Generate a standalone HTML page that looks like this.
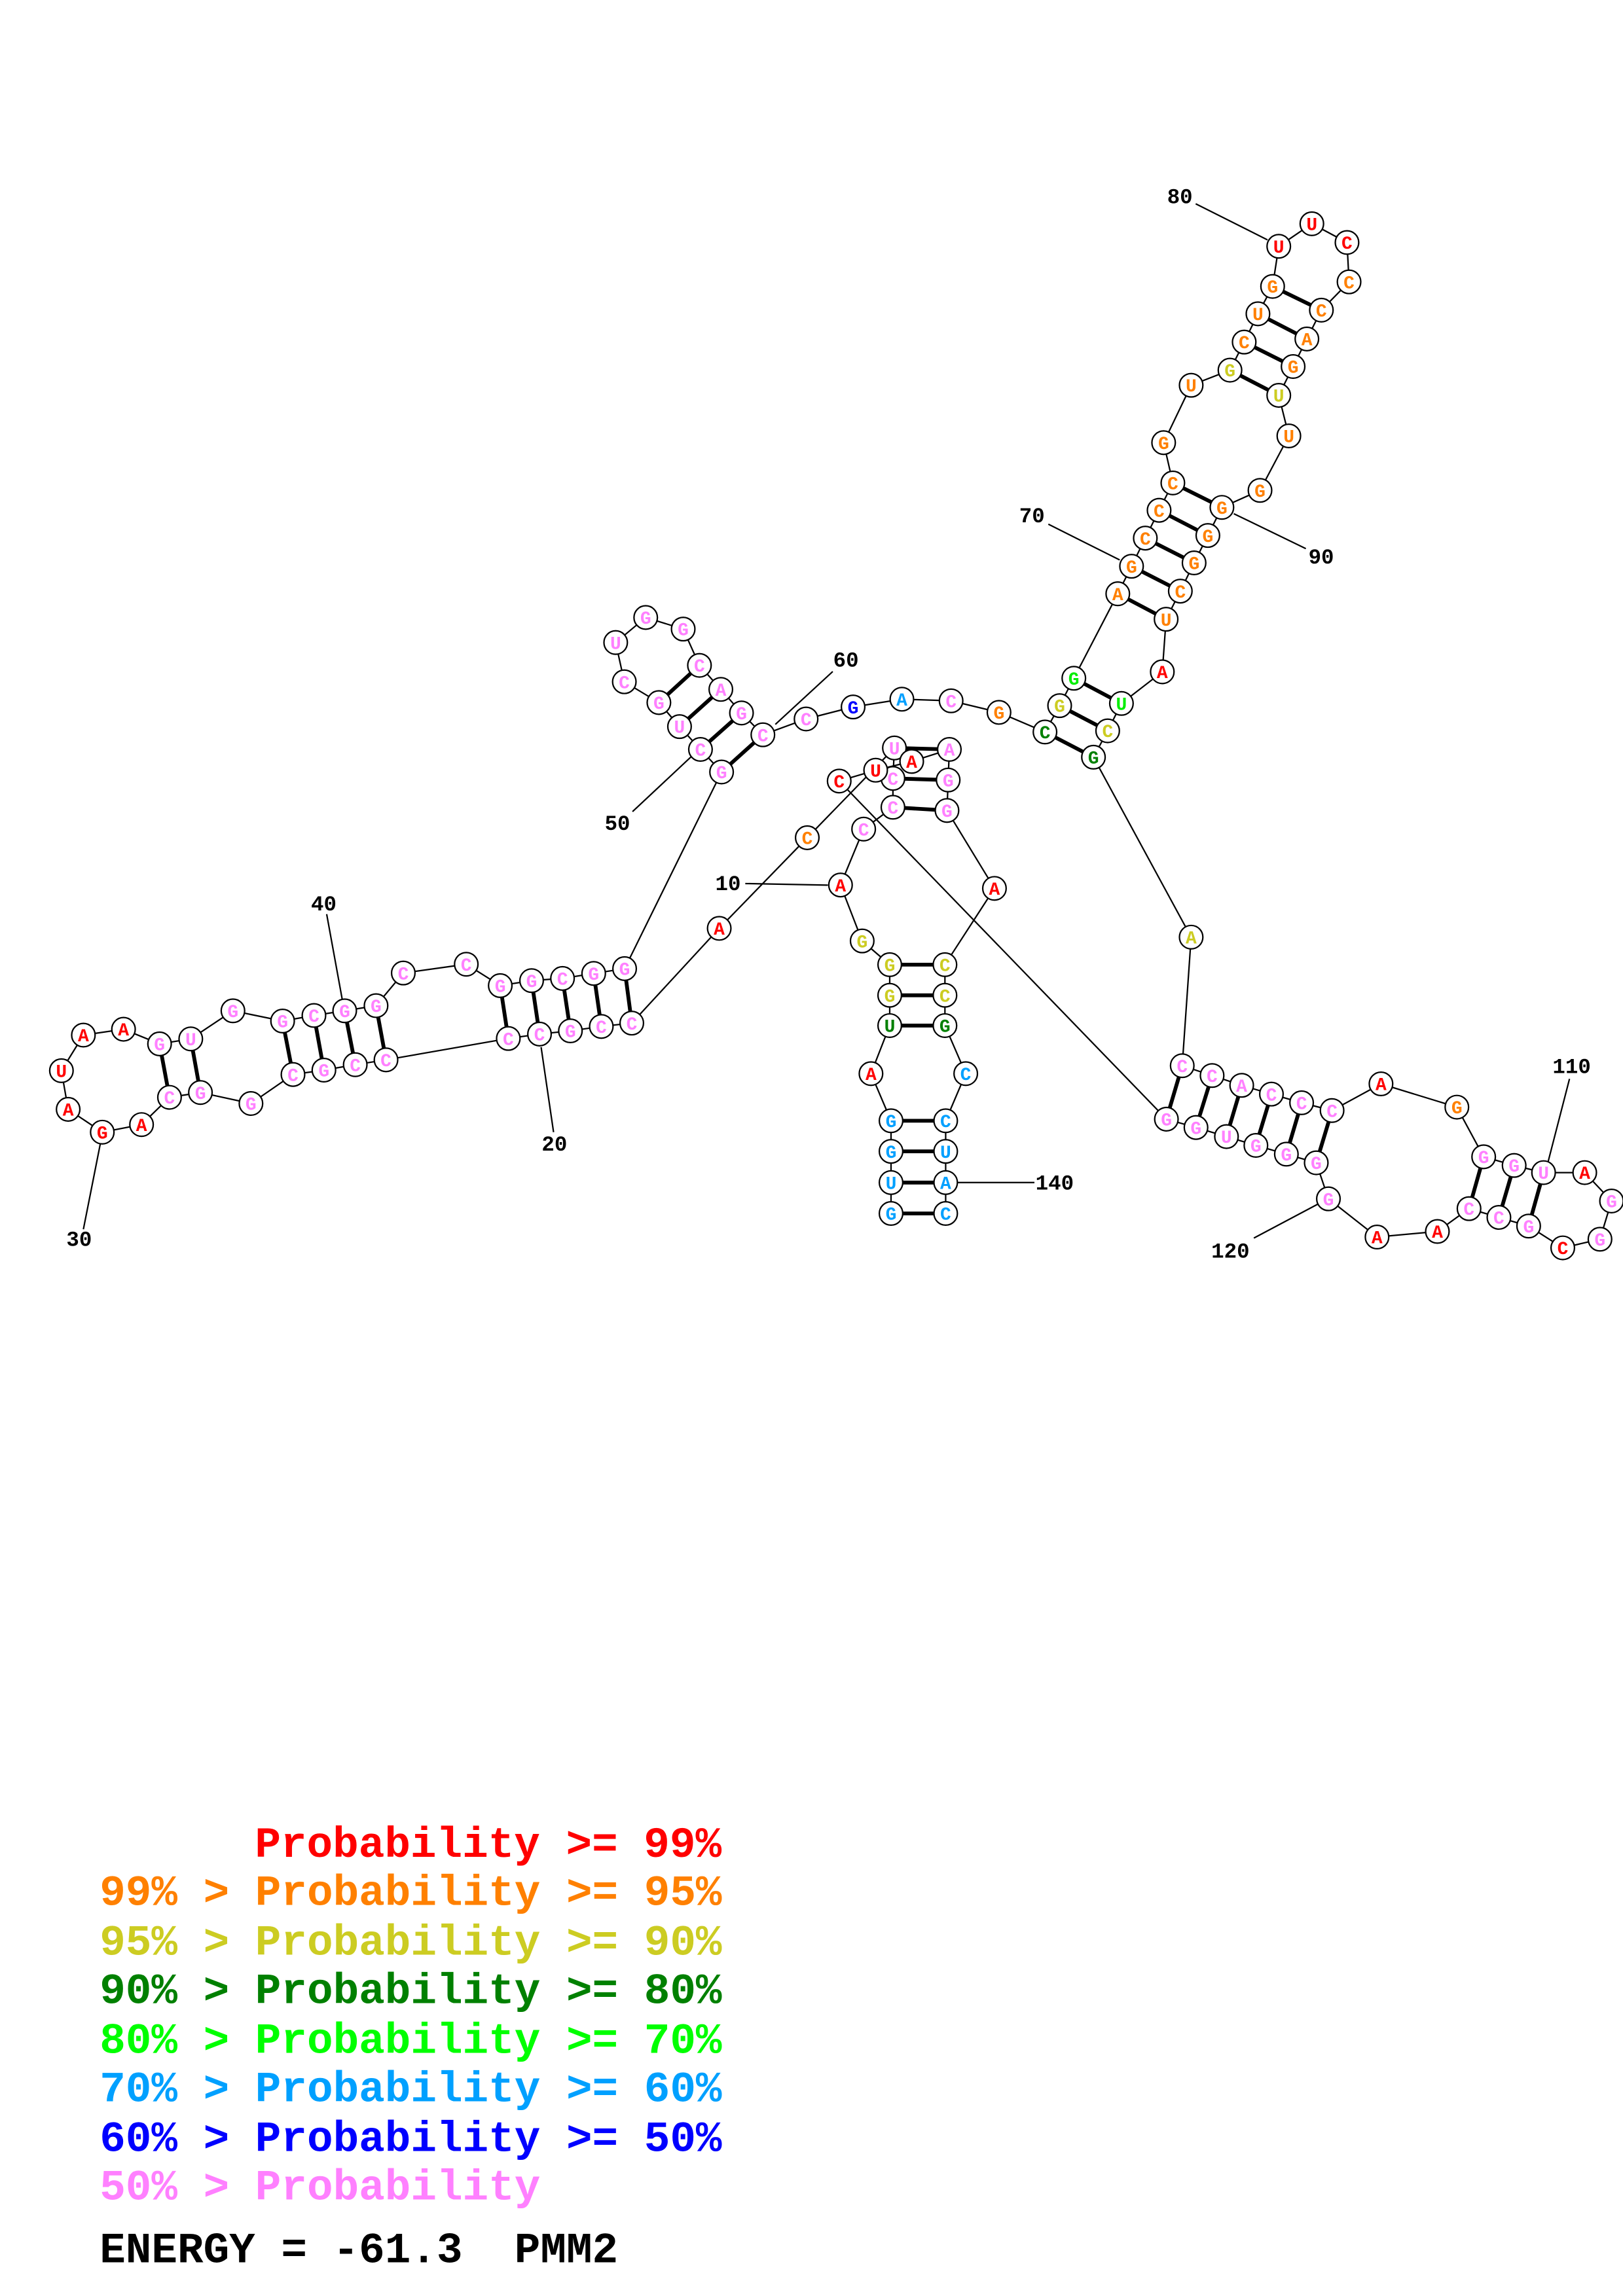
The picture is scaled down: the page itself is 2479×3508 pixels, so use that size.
<!DOCTYPE html>
<html><head><meta charset="utf-8"><style>
html,body{margin:0;padding:0;background:#fff;}
svg{display:block;}
.n text{font-family:"Liberation Mono",monospace;font-weight:bold;font-size:12.5px;text-anchor:middle;}
.lb{font-family:"Liberation Mono",monospace;font-weight:bold;font-size:14.5px;text-anchor:middle;dominant-baseline:central;}
.lg{font-family:"Liberation Mono",monospace;font-weight:bold;font-size:29.5px;white-space:pre;}
</style></head><body>
<svg width="2479" height="3508" viewBox="0 0 1108 1568" xmlns="http://www.w3.org/2000/svg">
<rect width="1108" height="1568" fill="#fff"/>
<g stroke="#000" stroke-width="1" fill="none">
<line x1="508.8" y1="603.4" x2="565.2" y2="604.5"/>
<line x1="369.4" y1="715.1" x2="377.9" y2="773.2"/>
<line x1="68.4" y1="781.4" x2="56.9" y2="839.5"/>
<line x1="223" y1="624.3" x2="234" y2="684.6"/>
<line x1="431.8" y1="554.3" x2="471.6" y2="517.0"/>
<line x1="568.5" y1="458.6" x2="529.3" y2="494.7"/>
<line x1="715.7" y1="358" x2="764.4" y2="382.4"/>
<line x1="816.3" y1="139.2" x2="865.3" y2="163.8"/>
<line x1="842.3" y1="350.8" x2="891.5" y2="374.7"/>
<line x1="1071.5" y1="736.8" x2="1056.9" y2="793.4"/>
<line x1="856" y1="845.5" x2="899.6" y2="822.4"/>
<line x1="653.6" y1="807.6" x2="706.2" y2="807.6"/>
<polyline points="608.3,828.7 608.3,807.6 608.3,786.3 608.3,765.4 594.6,733.2 607.4,700.4 607.4,679.7 607.4,658.8 588.6,642.6 573.8,604.4 589.6,566.2 609.6,551.3 609.6,531.6 610.6,510.8 551.1,572.1 491,634 431.3,698.7 410.5,701.0 389.4,704.0 368.3,706.2 347.0,709.2 263.5,723.8 242.5,727.1 221.1,730.8 200.0,733.8 171.3,753.6 136.8,746.1 115.7,749.4 96.6,768.0 69.8,773.2 46.5,757.6 41.9,731.2 56.9,706.9 84.3,702.9 108.9,712.9 130.2,709.5 159.0,690.3 192.9,697.3 214.3,693.5 235.3,690.3 256.7,686.8 275.3,664.5 318.3,658.5 341.5,673.1 362.9,669.7 384.0,668.2 405.3,664.8 426.4,661.5 492.6,527.2 478.2,511.8 463.9,496.2 449.8,479.8 426.2,465.6 420.3,438.8 440.8,421.7 466.4,429.6 477.5,454.4 492.1,470.8 506.2,486.9 520.8,501.8 550.3,491.0 582.4,482.8 615.7,477.5 649.3,478.6 682.0,486.5 713.4,499.9 723.4,481.9 733.1,463.2 763.1,405.5 772.5,386.7 781.9,367.5 791.3,348.5 800.7,329.8 794.4,302.3 813.2,263.1 839.7,252.8 849.4,233.6 858.8,214.3 868.8,195.6 873.0,168.2 895.6,152.8 919.6,165.6 921.0,192.5 902.1,211.8 892.2,231.5 882.8,250.3 873.0,270.0 879.9,297.7 860.2,334.9 834.2,346.5 824.6,365.7 815.2,384.4 805.8,403.7 796.1,422.9 793.5,458.8 765.6,480.4 756.2,499.1 746.5,517.1 813.2,640.0 807.1,727.8 827.5,734.5 847.7,741.2 868.0,747.2 888.6,753.1 909.4,758.4 942.8,740.2 994.6,756.1 1012.9,790.0 1033.7,795.9 1053.8,800.8 1081.9,800.8 1100.2,820.2 1092.3,846.3 1066.9,852.2 1043.6,837.3 1023.3,831.4 1002.9,825.4 981.3,841.0 940.1,844.8 906.9,818.7 898.6,794.1 878.2,788.2 857.4,782.2 837.3,776.2 816.5,770.0 796.3,764.3 572.9,533.4 597.8,526.0 622.4,520.0 648.1,511.8 647.3,532.7 646.5,553.5 678.9,606.7 645.1,658.8 645.1,679.7 645.1,700.4 659.3,733.2 645.6,765.4 645.6,786.3 645.6,807.6 645.6,828.7"/>
</g>
<g stroke="#000" stroke-width="2.6">
<line x1="608.3" y1="828.7" x2="645.6" y2="828.7"/>
<line x1="608.3" y1="807.6" x2="645.6" y2="807.6"/>
<line x1="608.3" y1="786.3" x2="645.6" y2="786.3"/>
<line x1="608.3" y1="765.4" x2="645.6" y2="765.4"/>
<line x1="607.4" y1="700.4" x2="645.1" y2="700.4"/>
<line x1="607.4" y1="679.7" x2="645.1" y2="679.7"/>
<line x1="607.4" y1="658.8" x2="645.1" y2="658.8"/>
<line x1="609.6" y1="551.3" x2="646.5" y2="553.5"/>
<line x1="609.6" y1="531.6" x2="647.3" y2="532.7"/>
<line x1="610.6" y1="510.8" x2="648.1" y2="511.8"/>
<line x1="431.3" y1="698.7" x2="426.4" y2="661.5"/>
<line x1="410.5" y1="701.0" x2="405.3" y2="664.8"/>
<line x1="389.4" y1="704.0" x2="384.0" y2="668.2"/>
<line x1="368.3" y1="706.2" x2="362.9" y2="669.7"/>
<line x1="347.0" y1="709.2" x2="341.5" y2="673.1"/>
<line x1="263.5" y1="723.8" x2="256.7" y2="686.8"/>
<line x1="242.5" y1="727.1" x2="235.3" y2="690.3"/>
<line x1="221.1" y1="730.8" x2="214.3" y2="693.5"/>
<line x1="200.0" y1="733.8" x2="192.9" y2="697.3"/>
<line x1="115.7" y1="749.4" x2="108.9" y2="712.9"/>
<line x1="136.8" y1="746.1" x2="130.2" y2="709.5"/>
<line x1="492.6" y1="527.2" x2="520.8" y2="501.8"/>
<line x1="478.2" y1="511.8" x2="506.2" y2="486.9"/>
<line x1="463.9" y1="496.2" x2="492.1" y2="470.8"/>
<line x1="449.8" y1="479.8" x2="477.5" y2="454.4"/>
<line x1="713.4" y1="499.9" x2="746.5" y2="517.1"/>
<line x1="723.4" y1="481.9" x2="756.2" y2="499.1"/>
<line x1="733.1" y1="463.2" x2="765.6" y2="480.4"/>
<line x1="763.1" y1="405.5" x2="796.1" y2="422.9"/>
<line x1="772.5" y1="386.7" x2="805.8" y2="403.7"/>
<line x1="781.9" y1="367.5" x2="815.2" y2="384.4"/>
<line x1="791.3" y1="348.5" x2="824.6" y2="365.7"/>
<line x1="800.7" y1="329.8" x2="834.2" y2="346.5"/>
<line x1="839.7" y1="252.8" x2="873.0" y2="270.0"/>
<line x1="849.4" y1="233.6" x2="882.8" y2="250.3"/>
<line x1="858.8" y1="214.3" x2="892.2" y2="231.5"/>
<line x1="868.8" y1="195.6" x2="902.1" y2="211.8"/>
<line x1="807.1" y1="727.8" x2="796.3" y2="764.3"/>
<line x1="827.5" y1="734.5" x2="816.5" y2="770.0"/>
<line x1="847.7" y1="741.2" x2="837.3" y2="776.2"/>
<line x1="868.0" y1="747.2" x2="857.4" y2="782.2"/>
<line x1="888.6" y1="753.1" x2="878.2" y2="788.2"/>
<line x1="909.4" y1="758.4" x2="898.6" y2="794.1"/>
<line x1="1012.9" y1="790.0" x2="1002.9" y2="825.4"/>
<line x1="1033.7" y1="795.9" x2="1023.3" y2="831.4"/>
<line x1="1053.8" y1="800.8" x2="1043.6" y2="837.3"/>
</g>
<g class="n" stroke-width="1">
<g fill="#00a0ff"><circle cx="608.3" cy="828.7" r="8" fill="#fff" stroke="#000"/><text x="608.3" y="833">G</text></g>
<g fill="#00a0ff"><circle cx="608.3" cy="807.6" r="8" fill="#fff" stroke="#000"/><text x="608.3" y="811.9">U</text></g>
<g fill="#00a0ff"><circle cx="608.3" cy="786.3" r="8" fill="#fff" stroke="#000"/><text x="608.3" y="790.6">G</text></g>
<g fill="#00a0ff"><circle cx="608.3" cy="765.4" r="8" fill="#fff" stroke="#000"/><text x="608.3" y="769.7">G</text></g>
<g fill="#ff0000"><circle cx="594.6" cy="733.2" r="8" fill="#fff" stroke="#000"/><text x="594.6" y="737.5">A</text></g>
<g fill="#008000"><circle cx="607.4" cy="700.4" r="8" fill="#fff" stroke="#000"/><text x="607.4" y="704.7">U</text></g>
<g fill="#cccc22"><circle cx="607.4" cy="679.7" r="8" fill="#fff" stroke="#000"/><text x="607.4" y="684">G</text></g>
<g fill="#cccc22"><circle cx="607.4" cy="658.8" r="8" fill="#fff" stroke="#000"/><text x="607.4" y="663.1">G</text></g>
<g fill="#cccc22"><circle cx="588.6" cy="642.6" r="8" fill="#fff" stroke="#000"/><text x="588.6" y="646.9">G</text></g>
<g fill="#ff0000"><circle cx="573.8" cy="604.4" r="8" fill="#fff" stroke="#000"/><text x="573.8" y="608.7">A</text></g>
<g fill="#ff80ff"><circle cx="589.6" cy="566.2" r="8" fill="#fff" stroke="#000"/><text x="589.6" y="570.5">C</text></g>
<g fill="#ff80ff"><circle cx="609.6" cy="551.3" r="8" fill="#fff" stroke="#000"/><text x="609.6" y="555.6">C</text></g>
<g fill="#ff80ff"><circle cx="609.6" cy="531.6" r="8" fill="#fff" stroke="#000"/><text x="609.6" y="535.9">C</text></g>
<g fill="#ff80ff"><circle cx="610.6" cy="510.8" r="8" fill="#fff" stroke="#000"/><text x="610.6" y="515.1">U</text></g>
<g fill="#ff8000"><circle cx="551.1" cy="572.1" r="8" fill="#fff" stroke="#000"/><text x="551.1" y="576.4">C</text></g>
<g fill="#ff0000"><circle cx="491" cy="634" r="8" fill="#fff" stroke="#000"/><text x="491" y="638.3">A</text></g>
<g fill="#ff80ff"><circle cx="431.3" cy="698.7" r="8" fill="#fff" stroke="#000"/><text x="431.3" y="703">C</text></g>
<g fill="#ff80ff"><circle cx="410.5" cy="701.0" r="8" fill="#fff" stroke="#000"/><text x="410.5" y="705.3">C</text></g>
<g fill="#ff80ff"><circle cx="389.4" cy="704.0" r="8" fill="#fff" stroke="#000"/><text x="389.4" y="708.3">G</text></g>
<g fill="#ff80ff"><circle cx="368.3" cy="706.2" r="8" fill="#fff" stroke="#000"/><text x="368.3" y="710.5">C</text></g>
<g fill="#ff80ff"><circle cx="347.0" cy="709.2" r="8" fill="#fff" stroke="#000"/><text x="347.0" y="713.5">C</text></g>
<g fill="#ff80ff"><circle cx="263.5" cy="723.8" r="8" fill="#fff" stroke="#000"/><text x="263.5" y="728.1">C</text></g>
<g fill="#ff80ff"><circle cx="242.5" cy="727.1" r="8" fill="#fff" stroke="#000"/><text x="242.5" y="731.4">C</text></g>
<g fill="#ff80ff"><circle cx="221.1" cy="730.8" r="8" fill="#fff" stroke="#000"/><text x="221.1" y="735.1">G</text></g>
<g fill="#ff80ff"><circle cx="200.0" cy="733.8" r="8" fill="#fff" stroke="#000"/><text x="200.0" y="738.1">C</text></g>
<g fill="#ff80ff"><circle cx="171.3" cy="753.6" r="8" fill="#fff" stroke="#000"/><text x="171.3" y="757.9">G</text></g>
<g fill="#ff80ff"><circle cx="136.8" cy="746.1" r="8" fill="#fff" stroke="#000"/><text x="136.8" y="750.4">G</text></g>
<g fill="#ff80ff"><circle cx="115.7" cy="749.4" r="8" fill="#fff" stroke="#000"/><text x="115.7" y="753.7">C</text></g>
<g fill="#ff0000"><circle cx="96.6" cy="768.0" r="8" fill="#fff" stroke="#000"/><text x="96.6" y="772.3">A</text></g>
<g fill="#ff0000"><circle cx="69.8" cy="773.2" r="8" fill="#fff" stroke="#000"/><text x="69.8" y="777.5">G</text></g>
<g fill="#ff0000"><circle cx="46.5" cy="757.6" r="8" fill="#fff" stroke="#000"/><text x="46.5" y="761.9">A</text></g>
<g fill="#ff0000"><circle cx="41.9" cy="731.2" r="8" fill="#fff" stroke="#000"/><text x="41.9" y="735.5">U</text></g>
<g fill="#ff0000"><circle cx="56.9" cy="706.9" r="8" fill="#fff" stroke="#000"/><text x="56.9" y="711.2">A</text></g>
<g fill="#ff0000"><circle cx="84.3" cy="702.9" r="8" fill="#fff" stroke="#000"/><text x="84.3" y="707.2">A</text></g>
<g fill="#ff80ff"><circle cx="108.9" cy="712.9" r="8" fill="#fff" stroke="#000"/><text x="108.9" y="717.2">G</text></g>
<g fill="#ff80ff"><circle cx="130.2" cy="709.5" r="8" fill="#fff" stroke="#000"/><text x="130.2" y="713.8">U</text></g>
<g fill="#ff80ff"><circle cx="159.0" cy="690.3" r="8" fill="#fff" stroke="#000"/><text x="159.0" y="694.6">G</text></g>
<g fill="#ff80ff"><circle cx="192.9" cy="697.3" r="8" fill="#fff" stroke="#000"/><text x="192.9" y="701.6">G</text></g>
<g fill="#ff80ff"><circle cx="214.3" cy="693.5" r="8" fill="#fff" stroke="#000"/><text x="214.3" y="697.8">C</text></g>
<g fill="#ff80ff"><circle cx="235.3" cy="690.3" r="8" fill="#fff" stroke="#000"/><text x="235.3" y="694.6">G</text></g>
<g fill="#ff80ff"><circle cx="256.7" cy="686.8" r="8" fill="#fff" stroke="#000"/><text x="256.7" y="691.1">G</text></g>
<g fill="#ff80ff"><circle cx="275.3" cy="664.5" r="8" fill="#fff" stroke="#000"/><text x="275.3" y="668.8">C</text></g>
<g fill="#ff80ff"><circle cx="318.3" cy="658.5" r="8" fill="#fff" stroke="#000"/><text x="318.3" y="662.8">C</text></g>
<g fill="#ff80ff"><circle cx="341.5" cy="673.1" r="8" fill="#fff" stroke="#000"/><text x="341.5" y="677.4">G</text></g>
<g fill="#ff80ff"><circle cx="362.9" cy="669.7" r="8" fill="#fff" stroke="#000"/><text x="362.9" y="674">G</text></g>
<g fill="#ff80ff"><circle cx="384.0" cy="668.2" r="8" fill="#fff" stroke="#000"/><text x="384.0" y="672.5">C</text></g>
<g fill="#ff80ff"><circle cx="405.3" cy="664.8" r="8" fill="#fff" stroke="#000"/><text x="405.3" y="669.1">G</text></g>
<g fill="#ff80ff"><circle cx="426.4" cy="661.5" r="8" fill="#fff" stroke="#000"/><text x="426.4" y="665.8">G</text></g>
<g fill="#ff80ff"><circle cx="492.6" cy="527.2" r="8" fill="#fff" stroke="#000"/><text x="492.6" y="531.5">G</text></g>
<g fill="#ff80ff"><circle cx="478.2" cy="511.8" r="8" fill="#fff" stroke="#000"/><text x="478.2" y="516.1">C</text></g>
<g fill="#ff80ff"><circle cx="463.9" cy="496.2" r="8" fill="#fff" stroke="#000"/><text x="463.9" y="500.5">U</text></g>
<g fill="#ff80ff"><circle cx="449.8" cy="479.8" r="8" fill="#fff" stroke="#000"/><text x="449.8" y="484.1">G</text></g>
<g fill="#ff80ff"><circle cx="426.2" cy="465.6" r="8" fill="#fff" stroke="#000"/><text x="426.2" y="469.9">C</text></g>
<g fill="#ff80ff"><circle cx="420.3" cy="438.8" r="8" fill="#fff" stroke="#000"/><text x="420.3" y="443.1">U</text></g>
<g fill="#ff80ff"><circle cx="440.8" cy="421.7" r="8" fill="#fff" stroke="#000"/><text x="440.8" y="426">G</text></g>
<g fill="#ff80ff"><circle cx="466.4" cy="429.6" r="8" fill="#fff" stroke="#000"/><text x="466.4" y="433.9">G</text></g>
<g fill="#ff80ff"><circle cx="477.5" cy="454.4" r="8" fill="#fff" stroke="#000"/><text x="477.5" y="458.7">C</text></g>
<g fill="#ff80ff"><circle cx="492.1" cy="470.8" r="8" fill="#fff" stroke="#000"/><text x="492.1" y="475.1">A</text></g>
<g fill="#ff80ff"><circle cx="506.2" cy="486.9" r="8" fill="#fff" stroke="#000"/><text x="506.2" y="491.2">G</text></g>
<g fill="#ff80ff"><circle cx="520.8" cy="501.8" r="8" fill="#fff" stroke="#000"/><text x="520.8" y="506.1">C</text></g>
<g fill="#ff80ff"><circle cx="550.3" cy="491.0" r="8" fill="#fff" stroke="#000"/><text x="550.3" y="495.3">C</text></g>
<g fill="#0000ff"><circle cx="582.4" cy="482.8" r="8" fill="#fff" stroke="#000"/><text x="582.4" y="487.1">G</text></g>
<g fill="#00a0ff"><circle cx="615.7" cy="477.5" r="8" fill="#fff" stroke="#000"/><text x="615.7" y="481.8">A</text></g>
<g fill="#ff80ff"><circle cx="649.3" cy="478.6" r="8" fill="#fff" stroke="#000"/><text x="649.3" y="482.9">C</text></g>
<g fill="#ff8000"><circle cx="682.0" cy="486.5" r="8" fill="#fff" stroke="#000"/><text x="682.0" y="490.8">G</text></g>
<g fill="#008000"><circle cx="713.4" cy="499.9" r="8" fill="#fff" stroke="#000"/><text x="713.4" y="504.2">C</text></g>
<g fill="#cccc22"><circle cx="723.4" cy="481.9" r="8" fill="#fff" stroke="#000"/><text x="723.4" y="486.2">G</text></g>
<g fill="#00ee00"><circle cx="733.1" cy="463.2" r="8" fill="#fff" stroke="#000"/><text x="733.1" y="467.5">G</text></g>
<g fill="#ff8000"><circle cx="763.1" cy="405.5" r="8" fill="#fff" stroke="#000"/><text x="763.1" y="409.8">A</text></g>
<g fill="#ff8000"><circle cx="772.5" cy="386.7" r="8" fill="#fff" stroke="#000"/><text x="772.5" y="391">G</text></g>
<g fill="#ff8000"><circle cx="781.9" cy="367.5" r="8" fill="#fff" stroke="#000"/><text x="781.9" y="371.8">C</text></g>
<g fill="#ff8000"><circle cx="791.3" cy="348.5" r="8" fill="#fff" stroke="#000"/><text x="791.3" y="352.8">C</text></g>
<g fill="#ff8000"><circle cx="800.7" cy="329.8" r="8" fill="#fff" stroke="#000"/><text x="800.7" y="334.1">C</text></g>
<g fill="#ff8000"><circle cx="794.4" cy="302.3" r="8" fill="#fff" stroke="#000"/><text x="794.4" y="306.6">G</text></g>
<g fill="#ff8000"><circle cx="813.2" cy="263.1" r="8" fill="#fff" stroke="#000"/><text x="813.2" y="267.4">U</text></g>
<g fill="#cccc22"><circle cx="839.7" cy="252.8" r="8" fill="#fff" stroke="#000"/><text x="839.7" y="257.1">G</text></g>
<g fill="#ff8000"><circle cx="849.4" cy="233.6" r="8" fill="#fff" stroke="#000"/><text x="849.4" y="237.9">C</text></g>
<g fill="#ff8000"><circle cx="858.8" cy="214.3" r="8" fill="#fff" stroke="#000"/><text x="858.8" y="218.6">U</text></g>
<g fill="#ff8000"><circle cx="868.8" cy="195.6" r="8" fill="#fff" stroke="#000"/><text x="868.8" y="199.9">G</text></g>
<g fill="#ff0000"><circle cx="873.0" cy="168.2" r="8" fill="#fff" stroke="#000"/><text x="873.0" y="172.5">U</text></g>
<g fill="#ff0000"><circle cx="895.6" cy="152.8" r="8" fill="#fff" stroke="#000"/><text x="895.6" y="157.1">U</text></g>
<g fill="#ff0000"><circle cx="919.6" cy="165.6" r="8" fill="#fff" stroke="#000"/><text x="919.6" y="169.9">C</text></g>
<g fill="#ff8000"><circle cx="921.0" cy="192.5" r="8" fill="#fff" stroke="#000"/><text x="921.0" y="196.8">C</text></g>
<g fill="#ff8000"><circle cx="902.1" cy="211.8" r="8" fill="#fff" stroke="#000"/><text x="902.1" y="216.1">C</text></g>
<g fill="#ff8000"><circle cx="892.2" cy="231.5" r="8" fill="#fff" stroke="#000"/><text x="892.2" y="235.8">A</text></g>
<g fill="#ff8000"><circle cx="882.8" cy="250.3" r="8" fill="#fff" stroke="#000"/><text x="882.8" y="254.6">G</text></g>
<g fill="#cccc22"><circle cx="873.0" cy="270.0" r="8" fill="#fff" stroke="#000"/><text x="873.0" y="274.3">U</text></g>
<g fill="#ff8000"><circle cx="879.9" cy="297.7" r="8" fill="#fff" stroke="#000"/><text x="879.9" y="302">U</text></g>
<g fill="#ff8000"><circle cx="860.2" cy="334.9" r="8" fill="#fff" stroke="#000"/><text x="860.2" y="339.2">G</text></g>
<g fill="#ff8000"><circle cx="834.2" cy="346.5" r="8" fill="#fff" stroke="#000"/><text x="834.2" y="350.8">G</text></g>
<g fill="#ff8000"><circle cx="824.6" cy="365.7" r="8" fill="#fff" stroke="#000"/><text x="824.6" y="370">G</text></g>
<g fill="#ff8000"><circle cx="815.2" cy="384.4" r="8" fill="#fff" stroke="#000"/><text x="815.2" y="388.7">G</text></g>
<g fill="#ff8000"><circle cx="805.8" cy="403.7" r="8" fill="#fff" stroke="#000"/><text x="805.8" y="408">C</text></g>
<g fill="#ff8000"><circle cx="796.1" cy="422.9" r="8" fill="#fff" stroke="#000"/><text x="796.1" y="427.2">U</text></g>
<g fill="#ff0000"><circle cx="793.5" cy="458.8" r="8" fill="#fff" stroke="#000"/><text x="793.5" y="463.1">A</text></g>
<g fill="#00ee00"><circle cx="765.6" cy="480.4" r="8" fill="#fff" stroke="#000"/><text x="765.6" y="484.7">U</text></g>
<g fill="#cccc22"><circle cx="756.2" cy="499.1" r="8" fill="#fff" stroke="#000"/><text x="756.2" y="503.4">C</text></g>
<g fill="#008000"><circle cx="746.5" cy="517.1" r="8" fill="#fff" stroke="#000"/><text x="746.5" y="521.4">G</text></g>
<g fill="#cccc22"><circle cx="813.2" cy="640.0" r="8" fill="#fff" stroke="#000"/><text x="813.2" y="644.3">A</text></g>
<g fill="#ff80ff"><circle cx="807.1" cy="727.8" r="8" fill="#fff" stroke="#000"/><text x="807.1" y="732.1">C</text></g>
<g fill="#ff80ff"><circle cx="827.5" cy="734.5" r="8" fill="#fff" stroke="#000"/><text x="827.5" y="738.8">C</text></g>
<g fill="#ff80ff"><circle cx="847.7" cy="741.2" r="8" fill="#fff" stroke="#000"/><text x="847.7" y="745.5">A</text></g>
<g fill="#ff80ff"><circle cx="868.0" cy="747.2" r="8" fill="#fff" stroke="#000"/><text x="868.0" y="751.5">C</text></g>
<g fill="#ff80ff"><circle cx="888.6" cy="753.1" r="8" fill="#fff" stroke="#000"/><text x="888.6" y="757.4">C</text></g>
<g fill="#ff80ff"><circle cx="909.4" cy="758.4" r="8" fill="#fff" stroke="#000"/><text x="909.4" y="762.7">C</text></g>
<g fill="#ff0000"><circle cx="942.8" cy="740.2" r="8" fill="#fff" stroke="#000"/><text x="942.8" y="744.5">A</text></g>
<g fill="#ff8000"><circle cx="994.6" cy="756.1" r="8" fill="#fff" stroke="#000"/><text x="994.6" y="760.4">G</text></g>
<g fill="#ff80ff"><circle cx="1012.9" cy="790.0" r="8" fill="#fff" stroke="#000"/><text x="1012.9" y="794.3">G</text></g>
<g fill="#ff80ff"><circle cx="1033.7" cy="795.9" r="8" fill="#fff" stroke="#000"/><text x="1033.7" y="800.2">G</text></g>
<g fill="#ff80ff"><circle cx="1053.8" cy="800.8" r="8" fill="#fff" stroke="#000"/><text x="1053.8" y="805.1">U</text></g>
<g fill="#ff0000"><circle cx="1081.9" cy="800.8" r="8" fill="#fff" stroke="#000"/><text x="1081.9" y="805.1">A</text></g>
<g fill="#ff80ff"><circle cx="1100.2" cy="820.2" r="8" fill="#fff" stroke="#000"/><text x="1100.2" y="824.5">G</text></g>
<g fill="#ff80ff"><circle cx="1092.3" cy="846.3" r="8" fill="#fff" stroke="#000"/><text x="1092.3" y="850.6">G</text></g>
<g fill="#ff0000"><circle cx="1066.9" cy="852.2" r="8" fill="#fff" stroke="#000"/><text x="1066.9" y="856.5">C</text></g>
<g fill="#ff80ff"><circle cx="1043.6" cy="837.3" r="8" fill="#fff" stroke="#000"/><text x="1043.6" y="841.6">G</text></g>
<g fill="#ff80ff"><circle cx="1023.3" cy="831.4" r="8" fill="#fff" stroke="#000"/><text x="1023.3" y="835.7">C</text></g>
<g fill="#ff80ff"><circle cx="1002.9" cy="825.4" r="8" fill="#fff" stroke="#000"/><text x="1002.9" y="829.7">C</text></g>
<g fill="#ff0000"><circle cx="981.3" cy="841.0" r="8" fill="#fff" stroke="#000"/><text x="981.3" y="845.3">A</text></g>
<g fill="#ff0000"><circle cx="940.1" cy="844.8" r="8" fill="#fff" stroke="#000"/><text x="940.1" y="849.1">A</text></g>
<g fill="#ff80ff"><circle cx="906.9" cy="818.7" r="8" fill="#fff" stroke="#000"/><text x="906.9" y="823">G</text></g>
<g fill="#ff80ff"><circle cx="898.6" cy="794.1" r="8" fill="#fff" stroke="#000"/><text x="898.6" y="798.4">G</text></g>
<g fill="#ff80ff"><circle cx="878.2" cy="788.2" r="8" fill="#fff" stroke="#000"/><text x="878.2" y="792.5">G</text></g>
<g fill="#ff80ff"><circle cx="857.4" cy="782.2" r="8" fill="#fff" stroke="#000"/><text x="857.4" y="786.5">G</text></g>
<g fill="#ff80ff"><circle cx="837.3" cy="776.2" r="8" fill="#fff" stroke="#000"/><text x="837.3" y="780.5">U</text></g>
<g fill="#ff80ff"><circle cx="816.5" cy="770.0" r="8" fill="#fff" stroke="#000"/><text x="816.5" y="774.3">G</text></g>
<g fill="#ff80ff"><circle cx="796.3" cy="764.3" r="8" fill="#fff" stroke="#000"/><text x="796.3" y="768.6">G</text></g>
<g fill="#ff0000"><circle cx="572.9" cy="533.4" r="8" fill="#fff" stroke="#000"/><text x="572.9" y="537.7">C</text></g>
<g fill="#ff0000"><circle cx="597.8" cy="526.0" r="8" fill="#fff" stroke="#000"/><text x="597.8" y="530.3">U</text></g>
<g fill="#ff0000"><circle cx="622.4" cy="520.0" r="8" fill="#fff" stroke="#000"/><text x="622.4" y="524.3">A</text></g>
<g fill="#ff80ff"><circle cx="648.1" cy="511.8" r="8" fill="#fff" stroke="#000"/><text x="648.1" y="516.1">A</text></g>
<g fill="#ff80ff"><circle cx="647.3" cy="532.7" r="8" fill="#fff" stroke="#000"/><text x="647.3" y="537">G</text></g>
<g fill="#ff80ff"><circle cx="646.5" cy="553.5" r="8" fill="#fff" stroke="#000"/><text x="646.5" y="557.8">G</text></g>
<g fill="#ff0000"><circle cx="678.9" cy="606.7" r="8" fill="#fff" stroke="#000"/><text x="678.9" y="611">A</text></g>
<g fill="#cccc22"><circle cx="645.1" cy="658.8" r="8" fill="#fff" stroke="#000"/><text x="645.1" y="663.1">C</text></g>
<g fill="#cccc22"><circle cx="645.1" cy="679.7" r="8" fill="#fff" stroke="#000"/><text x="645.1" y="684">C</text></g>
<g fill="#008000"><circle cx="645.1" cy="700.4" r="8" fill="#fff" stroke="#000"/><text x="645.1" y="704.7">G</text></g>
<g fill="#00a0ff"><circle cx="659.3" cy="733.2" r="8" fill="#fff" stroke="#000"/><text x="659.3" y="737.5">C</text></g>
<g fill="#00a0ff"><circle cx="645.6" cy="765.4" r="8" fill="#fff" stroke="#000"/><text x="645.6" y="769.7">C</text></g>
<g fill="#00a0ff"><circle cx="645.6" cy="786.3" r="8" fill="#fff" stroke="#000"/><text x="645.6" y="790.6">U</text></g>
<g fill="#00a0ff"><circle cx="645.6" cy="807.6" r="8" fill="#fff" stroke="#000"/><text x="645.6" y="811.9">A</text></g>
<g fill="#00a0ff"><circle cx="645.6" cy="828.7" r="8" fill="#fff" stroke="#000"/><text x="645.6" y="833">C</text></g>
</g>
<g class="lb" fill="#000">
<text x="497" y="604">10</text>
<text x="378.5" y="782">20</text>
<text x="54" y="847">30</text>
<text x="221" y="618">40</text>
<text x="421.5" y="563">50</text>
<text x="577.5" y="451.5">60</text>
<text x="704.5" y="353">70</text>
<text x="805.5" y="135">80</text>
<text x="902" y="381">90</text>
<text x="1073" y="729">110</text>
<text x="840" y="855">120</text>
<text x="720" y="808.5">140</text>
</g>
<g class="lg">
<text x="174" y="1268" fill="#ff0000">Probability &gt;= 99%</text>
<text x="68" y="1301" fill="#ff8000">99% &gt; Probability &gt;= 95%</text>
<text x="68" y="1335" fill="#cccc22">95% &gt; Probability &gt;= 90%</text>
<text x="68" y="1368" fill="#008000">90% &gt; Probability &gt;= 80%</text>
<text x="68" y="1402" fill="#00ff00">80% &gt; Probability &gt;= 70%</text>
<text x="68" y="1435" fill="#00a0ff">70% &gt; Probability &gt;= 60%</text>
<text x="68" y="1469" fill="#0000ff">60% &gt; Probability &gt;= 50%</text>
<text x="68" y="1502" fill="#ff80ff">50% &gt; Probability</text>
<text x="68" y="1545" fill="#000" xml:space="preserve">ENERGY = -61.3  PMM2</text>
</g>
</svg>
</body></html>
